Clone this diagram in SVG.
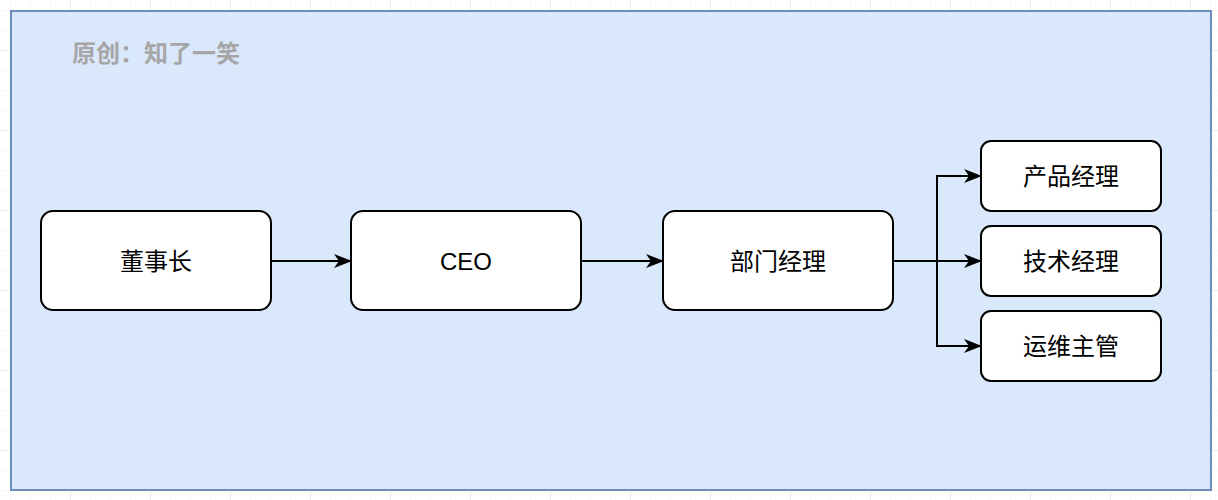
<svg xmlns="http://www.w3.org/2000/svg" width="1218" height="500" viewBox="0 0 1218 500">
<defs>
<pattern id="minor" x="10" y="10" width="20" height="20" patternUnits="userSpaceOnUse">
<path d="M0 0H20M0 0V20" fill="none" stroke="#f0f0f0" stroke-width="1"/>
</pattern>
<pattern id="major" x="70" y="50" width="80" height="80" patternUnits="userSpaceOnUse">
<path d="M0 0H80M0 0V80" fill="none" stroke="#e0e0e0" stroke-width="1"/>
</pattern>
<marker id="arr" viewBox="0 0 18 14" refX="17" refY="7" markerWidth="18" markerHeight="14" markerUnits="userSpaceOnUse" orient="auto">
<path d="M0 0L18 7L0 14L5 7Z" fill="#000"/>
</marker>
</defs>
<style>
.node rect{fill:#fff;stroke:#000;stroke-width:2}
.node text{font-family:"Liberation Sans","Noto Sans CJK SC",sans-serif;font-size:24px;fill:#000;text-anchor:middle;dominant-baseline:central}
.edge{fill:none;stroke:#000;stroke-width:2;marker-end:url(#arr)}
</style>
<rect width="1218" height="500" fill="#fff"/>
<rect width="1218" height="500" fill="url(#minor)"/>
<rect width="1218" height="500" fill="url(#major)"/>
<g id="container">
<rect x="11" y="11" width="1200" height="479" fill="#dae8fc" stroke="#6c8ebf" stroke-width="2"/>
<text x="72" y="51" font-family="'Noto Sans CJK SC',sans-serif" font-size="24" font-weight="bold" fill="#a6a6a6" dominant-baseline="central">原创：知了一笑</text>
</g>
<g id="n-chairman" class="node"><rect x="41" y="211" width="230" height="99" rx="12"/><text x="156" y="261">董事长</text></g>
<g id="n-ceo" class="node"><rect x="351" y="211" width="230" height="99" rx="12"/><text x="466" y="261">CEO</text></g>
<g id="n-dept" class="node"><rect x="663" y="211" width="230" height="99" rx="12"/><text x="778" y="261">部门经理</text></g>
<g id="n-product" class="node"><rect x="981" y="141" width="180" height="70" rx="10"/><text x="1071" y="176">产品经理</text></g>
<g id="n-tech" class="node"><rect x="981" y="226" width="180" height="70" rx="10"/><text x="1071" y="261">技术经理</text></g>
<g id="n-ops" class="node"><rect x="981" y="311" width="180" height="70" rx="10"/><text x="1071" y="346">运维主管</text></g>
<g id="connectors">
<path class="edge" d="M271 261H351"/>
<path class="edge" d="M581 261H663"/>
<path class="edge" d="M893 261H937V176H981"/>
<path class="edge" d="M893 261H981"/>
<path class="edge" d="M893 261H937V346H981"/>
</g>
</svg>
